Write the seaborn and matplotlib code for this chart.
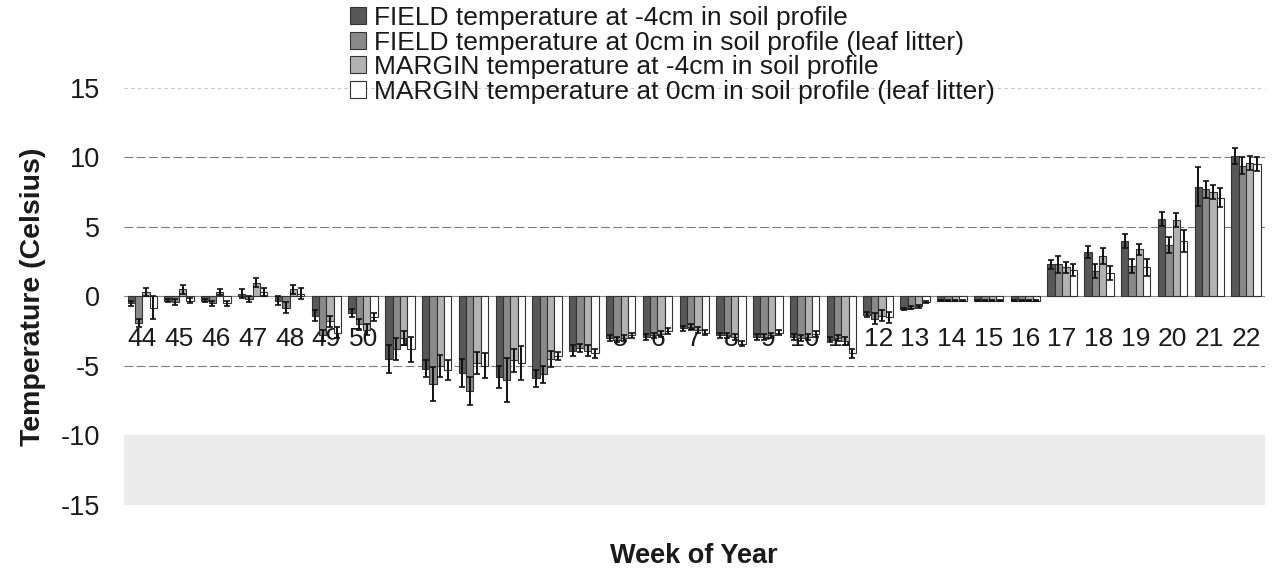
import matplotlib
matplotlib.use("Agg")
import matplotlib.pyplot as plt
import seaborn as sns
import pandas as pd
import numpy as np

weeks = ['44', '45', '46', '47', '48', '49', '50', '51', '52', '1', '2', '3', '4', '5', '6',
         '7', '8', '9', '10', '11', '12', '13', '14', '15', '16', '17', '18', '19', '20', '21', '22']

series_names = ['FIELD temperature at -4cm in soil profile',
                'FIELD temperature at 0cm in soil profile (leaf litter)',
                'MARGIN temperature at -4cm in soil profile',
                'MARGIN temperature at 0cm in soil profile (leaf litter)']

field_m4 = [-0.5, -0.3, -0.3, 0.2, -0.3, -1.4, -1.2, -4.5, -5.2, -5.5, -5.8, -5.9, -3.9, -3.0, -2.9,
            -2.3, -2.8, -2.9, -2.9, -3.1, -1.3, -0.9, -0.3, -0.3, -0.3, 2.3, 3.2, 4.0, 5.6, 7.9, 10.1]
field_0 = [-1.9, -0.4, -0.5, -0.2, -0.8, -2.8, -2.0, -3.8, -6.3, -6.8, -6.0, -5.6, -3.7, -3.1, -2.8,
           -2.2, -2.8, -2.9, -3.0, -3.0, -1.6, -0.8, -0.3, -0.3, -0.3, 2.3, 1.8, 2.2, 3.7, 7.7, 9.4]
margin_m4 = [0.3, 0.5, 0.3, 1.0, 0.5, -1.8, -2.4, -3.0, -5.0, -4.8, -4.6, -4.5, -3.9, -3.0, -2.7,
             -2.4, -2.9, -2.8, -2.9, -3.2, -1.4, -0.7, -0.3, -0.3, -0.3, 2.1, 2.9, 3.4, 5.5, 7.5, 9.6]
margin_0 = [-0.8, -0.3, -0.5, 0.3, 0.2, -2.6, -1.5, -3.8, -5.3, -5.0, -4.8, -4.3, -4.1, -2.8, -2.5,
            -2.6, -3.4, -2.6, -2.7, -4.1, -1.5, -0.4, -0.3, -0.3, -0.3, 1.9, 1.7, 2.1, 4.0, 7.1, 9.5]

field_m4_err = [0.2, 0.1, 0.1, 0.3, 0.3, 0.4, 0.3, 1.0, 0.6, 1.0, 0.8, 0.6, 0.4, 0.2, 0.2,
                0.2, 0.2, 0.2, 0.2, 0.2, 0.2, 0.1, 0.05, 0.05, 0.05, 0.3, 0.4, 0.5, 0.5, 1.4, 0.6]
field_0_err = [0.3, 0.2, 0.2, 0.2, 0.4, 0.4, 0.4, 0.8, 1.2, 1.0, 1.6, 0.6, 0.3, 0.2, 0.2,
               0.2, 0.2, 0.2, 0.2, 0.2, 0.4, 0.1, 0.05, 0.05, 0.05, 0.6, 0.5, 0.5, 0.6, 0.6, 0.6]
margin_m4_err = [0.3, 0.3, 0.2, 0.3, 0.3, 0.4, 0.4, 0.5, 0.8, 0.8, 0.8, 0.6, 0.4, 0.2, 0.2,
                 0.2, 0.2, 0.2, 0.2, 0.3, 0.4, 0.1, 0.05, 0.05, 0.05, 0.4, 0.6, 0.4, 0.5, 0.5, 0.5]
margin_0_err = [0.8, 0.2, 0.2, 0.3, 0.4, 0.4, 0.3, 0.9, 0.7, 0.9, 1.2, 0.3, 0.3, 0.2, 0.2,
                0.2, 0.2, 0.2, 0.2, 0.3, 0.4, 0.1, 0.05, 0.05, 0.05, 0.4, 0.5, 0.6, 0.8, 0.7, 0.5]

y_ticks = [-15, -10, -5, 0, 5, 10, 15]

values = [field_m4, field_0, margin_m4, margin_0]
errors = [field_m4_err, field_0_err, margin_m4_err, margin_0_err]

rows = []
for name, vals in zip(series_names, values):
    for w, v in zip(weeks, vals):
        rows.append({'week': w, 'series': name, 'temp': v})
df = pd.DataFrame(rows)

sns.set_theme(style="white")
plt.rcParams['font.family'] = ['Liberation Sans', 'DejaVu Sans']

fig = plt.figure(figsize=(12.83, 5.71), dpi=100)
ax = fig.add_axes([0.0966, 0.1156, 0.889, 0.7305])

palette = ['#585858', '#8a8a8a', '#b2b2b2', '#ffffff']
sns.barplot(data=df, x='week', y='temp', hue='series', order=weeks, hue_order=series_names,
            palette=palette, width=0.8, errorbar=None, edgecolor='#333333', linewidth=0.8,
            ax=ax, zorder=3)

for cont, err in zip(ax.containers, errors):
    xs = [b.get_x() + b.get_width() / 2 for b in cont]
    ys = [b.get_y() + b.get_height() for b in cont]
    ax.errorbar(xs, ys, yerr=err, fmt='none', ecolor='#111111', elinewidth=1.4,
                capsize=2, capthick=1.2, zorder=4)

ax.set_ylim(-15, 15)
ax.set_xlim(-0.5, len(weeks) - 0.5)
ax.set_yticks(y_ticks)
ax.set_yticklabels([str(t) for t in y_ticks], fontsize=19.5, color='#1a1a1a')
ax.axhspan(-15, -10, color='#ececec', zorder=0)
ax.axhline(15, color='#bbbbbb', lw=0.6, ls=(0, (4, 4)), zorder=1)
for t in [10, 5, -5]:
    ax.axhline(t, color='#444444', lw=0.8, ls=(0, (8, 3)), alpha=0.7, zorder=1)
ax.axhline(0, color='#888888', lw=0.8, zorder=2)

for s in ax.spines.values():
    s.set_visible(False)
ax.spines['bottom'].set_position(('data', 0))
ax.tick_params(axis='x', length=0, pad=22, labelsize=19, labelcolor='#1a1a1a')
ax.tick_params(axis='y', length=0, pad=17)

ax.set_ylabel('Temperature (Celsius)', fontsize=20.5, fontweight='bold', color='#1a1a1a')
ax.yaxis.set_label_coords(-0.068, 0.5)
ax.set_xlabel('Week of Year', fontsize=19.5, fontweight='bold', color='#1a1a1a')
ax.xaxis.set_label_coords(0.5, -0.092)

handles, labels = ax.get_legend_handles_labels()
ax.get_legend().remove()
leg = fig.legend(handles, labels, loc='upper left', bbox_to_anchor=(350 / 1283, 1 - 6 / 571),
                 frameon=False, handlelength=0.6, handleheight=0.6,
                 handletextpad=0.3, labelspacing=0.02, borderpad=0, borderaxespad=0,
                 prop={'size': 19})
for t in leg.get_texts():
    t.set_color('#1a1a1a')

fig.savefig('out.png', dpi=100)
